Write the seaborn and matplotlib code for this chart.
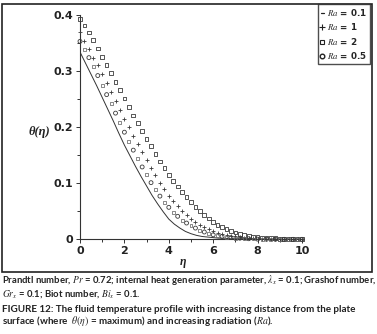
import numpy as np
import pandas as pd
import matplotlib
matplotlib.use("Agg")
import matplotlib.pyplot as plt
import seaborn as sns
from matplotlib.lines import Line2D
from matplotlib.patches import Rectangle

# ---------------- data ----------------
eta_markers = [round(0.2 * i, 1) for i in range(51)]
theta_Ra2 = [0.393, 0.381, 0.369, 0.355, 0.340, 0.325, 0.311, 0.297, 0.281, 0.266,
             0.251, 0.236, 0.221, 0.207, 0.193, 0.179, 0.166, 0.152, 0.139, 0.127,
             0.115, 0.104, 0.094, 0.084, 0.075, 0.066, 0.058, 0.050, 0.043, 0.037,
             0.031, 0.026, 0.022, 0.018, 0.015, 0.012, 0.010, 0.008, 0.006, 0.005,
             0.004, 0.003, 0.003, 0.002, 0.002, 0.001, 0.001, 0.001, 0.0005, 0.0003, 0.0]
theta_Ra1 = [0.369, 0.354, 0.340, 0.324, 0.310, 0.294, 0.279, 0.263, 0.247, 0.231,
             0.215, 0.200, 0.185, 0.170, 0.155, 0.141, 0.127, 0.114, 0.101, 0.089,
             0.078, 0.068, 0.059, 0.051, 0.044, 0.037, 0.031, 0.026, 0.022, 0.018,
             0.015, 0.012, 0.010, 0.008, 0.006, 0.005, 0.004, 0.003, 0.002, 0.002,
             0.001, 0.001, 0.001, 0.0005, 0.0005, 0.0003, 0.0002, 0.0001, 0.0, 0.0, 0.0]
theta_Ra05 = [0.353, 0.339, 0.324, 0.308, 0.292, 0.275, 0.258, 0.242, 0.225, 0.208,
              0.191, 0.175, 0.159, 0.144, 0.129, 0.115, 0.101, 0.089, 0.077, 0.066,
              0.057, 0.048, 0.041, 0.034, 0.029, 0.024, 0.020, 0.016, 0.013, 0.010,
              0.008, 0.006, 0.005, 0.004, 0.003, 0.002, 0.002, 0.001, 0.001, 0.0005,
              0.0003, 0.0002, 0.0001, 0.0, 0.0, 0.0, 0.0, 0.0, 0.0, 0.0, 0.0]
eta_line = [0.25 * i for i in range(41)]
theta_Ra01 = [0.334, 0.314, 0.294, 0.274, 0.253, 0.232, 0.211, 0.189, 0.168, 0.149,
              0.130, 0.112, 0.095, 0.078, 0.063, 0.049, 0.036, 0.027, 0.020, 0.014,
              0.010, 0.007, 0.005, 0.004, 0.003, 0.002, 0.002, 0.001, 0.001, 0.001,
              0.0005, 0.0003, 0.0002, 0.0, 0.0, 0.0, 0.0, 0.0, 0.0, 0.0, 0.0]

x_ticks = [0, 2, 4, 6, 8, 10]
y_ticks = [0, 0.1, 0.2, 0.3, 0.4]
y_ticklabels = ["0", "0.1", "0.2", "0.3", "0.4"]
legend_labels = [r"$\mathit{Ra}$ = 0.1", r"$\mathit{Ra}$ = 1",
                 r"$\mathit{Ra}$ = 2", r"$\mathit{Ra}$ = 0.5"]

caption1 = (r"Prandtl number, $\mathit{Pr}$ = 0.72; internal heat generation parameter, "
            r"$\mathit{\lambda_x}$ = 0.1; Grashof number,")
caption2 = r"$\mathit{Gr_x}$ = 0.1; Biot number, $\mathit{Bi_x}$ = 0.1."
caption3 = "FIGURE 12: The fluid temperature profile with increasing distance from the plate"
caption4 = r"surface (where  $\theta(\eta)$ = maximum) and increasing radiation ($\mathit{Ra}$)."

# ---------------- style ----------------
sns.set_style("ticks")
plt.rcParams["font.family"] = ["DejaVu Sans"]
plt.rcParams["mathtext.fontset"] = "stix"

W, H = 377, 334
fig = plt.figure(figsize=(W / 100, H / 100), dpi=100)

def fx(px):
    return px / W

def fy(py):
    return 1 - py / H

ax_left, ax_right, ax_top, ax_bot = 80, 302, 15, 239.3
ax = fig.add_axes([fx(ax_left), fy(ax_bot), fx(ax_right - ax_left), (ax_bot - ax_top) / H])

df_line = pd.DataFrame({"eta": eta_line, "theta": theta_Ra01})
df_m = pd.DataFrame({"eta": eta_markers, "Ra2": theta_Ra2, "Ra1": theta_Ra1, "Ra05": theta_Ra05})

mk = "#3a3a3a"
sns.lineplot(data=df_line, x="eta", y="theta", ax=ax, color="#333333", linewidth=0.7)
sns.scatterplot(data=df_m, x="eta", y="Ra2", ax=ax, marker="s", s=7,
                facecolor="none", edgecolor=mk, linewidth=0.6, clip_on=False, zorder=3)
sns.scatterplot(data=df_m, x="eta", y="Ra1", ax=ax, marker="+", s=11,
                color=mk, linewidth=0.6, clip_on=False, zorder=3)
even = df_m.iloc[::2]
odd = df_m.iloc[1::2]
sns.scatterplot(data=even, x="eta", y="Ra05", ax=ax, marker="o", s=8,
                facecolor="none", edgecolor=mk, linewidth=0.6, clip_on=False, zorder=3)
sns.scatterplot(data=odd, x="eta", y="Ra05", ax=ax, marker="s", s=4.5,
                facecolor="none", edgecolor="#6a6a6a", linewidth=0.55, clip_on=False, zorder=3)

ax.set_xlim(0, 10)
ax.set_ylim(0, 0.4)
ax.set_xticks(x_ticks)
ax.set_xticks([1, 3, 5, 7, 9], minor=True)
ax.set_yticks(y_ticks)
ax.set_yticklabels(y_ticklabels)
ax.set_yticks([0.05, 0.15, 0.25, 0.35], minor=True)
for lab in ax.get_xticklabels() + ax.get_yticklabels():
    lab.set_fontweight("bold")
    lab.set_fontsize(8)
    lab.set_color("#222222")
ax.tick_params(axis="both", which="major", length=3, width=0.7, color="#333333", pad=2)
ax.tick_params(axis="both", which="minor", length=2, width=0.7, color="#333333")
sns.despine(ax=ax)
for sp in ("left", "bottom"):
    ax.spines[sp].set_linewidth(0.8)
    ax.spines[sp].set_color("#333333")
ax.set_xlabel("")
ax.set_ylabel("")

fig.text(fx(39), fy(132), "θ(η)", family="Liberation Serif", style="italic",
         weight="bold", fontsize=9, ha="center", va="center", color="#222222")
fig.text(fx(183), fy(262), "η", family="Liberation Serif", style="italic",
         weight="bold", fontsize=8.5, ha="center", va="center", color="#222222")

# legend
handles = [
    Line2D([], [], color="#222222", linestyle="-", linewidth=0.9),
    Line2D([], [], color="#222222", marker="+", linestyle="none", markersize=4, markeredgewidth=0.8),
    Line2D([], [], color="#222222", marker="s", linestyle="none", markersize=3.5,
           markerfacecolor="none", markeredgewidth=0.8),
    Line2D([], [], color="#222222", marker="o", linestyle="none", markersize=3.3,
           markerfacecolor="none", markeredgewidth=1.0),
]
leg = fig.legend(handles, legend_labels, loc="upper right",
                 bbox_to_anchor=(fx(369.5), fy(4)), frameon=True, fancybox=False,
                 fontsize=6.3, handlelength=0.4, handletextpad=0.3, borderpad=0.3,
                 labelspacing=0.4, borderaxespad=0)
leg.get_frame().set_edgecolor("#222222")
leg.get_frame().set_linewidth(1.0)
for t in leg.get_texts():
    t.set_fontweight("bold")

# outer border
fig.add_artist(Rectangle((fx(2), fy(272)), fx(370), (272 - 4) / H, transform=fig.transFigure,
                         fill=False, edgecolor="#222222", linewidth=1.2))

# captions
cap_kw = dict(weight="bold", family="Lato", ha="left", va="center", color="#222222")
fig.text(fx(2), fy(280), caption1, fontsize=6.85, **cap_kw)
fig.text(fx(2), fy(293.5), caption2, fontsize=6.85, **cap_kw)
fig.text(fx(2), fy(309.5), caption3, fontsize=7.1, **cap_kw)
fig.text(fx(2), fy(321.5), caption4, fontsize=7.1, **cap_kw)

fig.savefig("out.png", dpi=100)
